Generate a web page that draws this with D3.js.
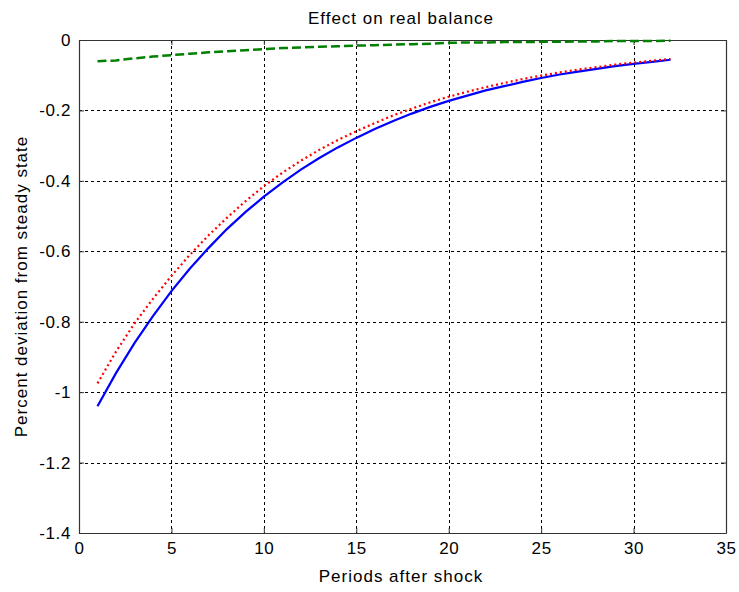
<!DOCTYPE html>
<html>
<head>
<meta charset="utf-8">
<script src="https://cdn.jsdelivr.net/npm/d3@7"></script>
<style>
	body { margin: 0; background: #fff; }
	text { font-family: "Liberation Sans", Arial, sans-serif; fill: #000; }
</style>
</head>
<body>
<div id="chart"></div>
<script>
// periods after shock
var periods = [1,2,3,4,5,6,7,8,9,10,11,12,13,14,15,16,17,18,19,20,21,22,23,24,25,26,27,28,29,30,31,32];

// blue solid line
var blueVals = [-1.040,-0.946,-0.861,-0.784,-0.713,-0.649,-0.591,-0.537,-0.489,-0.445,-0.405,-0.368,-0.335,-0.305,-0.278,-0.253,
	-0.230,-0.209,-0.190,-0.173,-0.158,-0.143,-0.131,-0.119,-0.108,-0.098,-0.090,-0.082,-0.074,-0.068,-0.062,-0.056];
// red dotted line
var redVals = [-0.975,-0.885,-0.805,-0.735,-0.670,-0.610,-0.555,-0.505,-0.458,-0.415,-0.377,-0.343,-0.312,-0.284,-0.259,-0.236,
	-0.214,-0.195,-0.177,-0.161,-0.147,-0.134,-0.122,-0.111,-0.101,-0.092,-0.084,-0.077,-0.070,-0.064,-0.059,-0.054];
// green dashed line
var greenVals = [-0.060,-0.058,-0.052,-0.047,-0.043,-0.039,-0.035,-0.032,-0.029,-0.026,-0.023,-0.021,-0.019,-0.018,-0.016,-0.015,
	-0.013,-0.012,-0.011,-0.008,-0.007,-0.007,-0.006,-0.006,-0.005,-0.005,-0.004,-0.004,-0.003,-0.003,-0.003,-0.002];

var xTicks = [0,5,10,15,20,25,30,35];
var yTicks = [0,-0.2,-0.4,-0.6,-0.8,-1,-1.2,-1.4];

var W = 739, H = 592;
var m = { left: 79, right: 13, top: 40, bottom: 59 };
var pw = W - m.left - m.right, ph = H - m.top - m.bottom;

var svg = d3.select('#chart').append('svg')
	.attr('width', W).attr('height', H);

var x = d3.scaleLinear().domain([0, 35]).range([m.left, m.left + pw]);
var y = d3.scaleLinear().domain([-1.4, 0]).range([m.top + ph, m.top]);

// grid
var grid = svg.append('g').attr('stroke', '#000').attr('stroke-width', 1).attr('stroke-dasharray', '3,3');
grid.selectAll('.gx').data(xTicks.slice(1, -1)).enter().append('line')
	.attr('x1', function (d) { return Math.round(x(d)) + 0.5; })
	.attr('x2', function (d) { return Math.round(x(d)) + 0.5; })
	.attr('y1', m.top).attr('y2', m.top + ph);
grid.selectAll('.gy').data(yTicks.slice(1, -1)).enter().append('line')
	.attr('y1', function (d) { return Math.round(y(d)) + 0.5; })
	.attr('y2', function (d) { return Math.round(y(d)) + 0.5; })
	.attr('x1', m.left).attr('x2', m.left + pw);

// axes
var fmt = function (d) { return d3.format('')(+d.toFixed(1)).replace('\u2212', '-'); };
var xAx = svg.append('g').attr('transform', 'translate(0,' + (m.top + ph) + ')')
	.call(d3.axisBottom(x).tickValues(xTicks).tickSizeInner(-5).tickSizeOuter(0).tickPadding(9).tickFormat(fmt));
var xTop = svg.append('g').attr('transform', 'translate(0,' + m.top + ')')
	.call(d3.axisTop(x).tickValues(xTicks).tickSizeInner(-5).tickSizeOuter(0).tickFormat(''));
var yAx = svg.append('g').attr('transform', 'translate(' + m.left + ',0)')
	.call(d3.axisLeft(y).tickValues(yTicks).tickSizeInner(-5).tickSizeOuter(0).tickPadding(8).tickFormat(fmt));
var yRight = svg.append('g').attr('transform', 'translate(' + (m.left + pw) + ',0)')
	.call(d3.axisRight(y).tickValues(yTicks).tickSizeInner(-5).tickSizeOuter(0).tickFormat(''));

[xAx, xTop, yAx, yRight].forEach(function (g) {
	g.select('.domain').attr('stroke', '#333').attr('stroke-width', 1.2);
	g.selectAll('.tick line').attr('stroke', '#333');
	g.selectAll('text').attr('font-size', 17).attr('letter-spacing', 0.6)
		.attr('font-family', '"Liberation Sans", Arial, sans-serif').attr('fill', '#222');
});

// lines
var line = function (vals) {
	return d3.line()
		.x(function (d, i) { return x(periods[i]); })
		.y(function (d) { return y(d); })(vals);
};
svg.append('path').attr('d', line(greenVals)).attr('fill', 'none')
	.attr('stroke', '#008000').attr('stroke-width', 2.5).attr('stroke-dasharray', '9,4');
svg.append('path').attr('d', line(blueVals)).attr('fill', 'none')
	.attr('stroke', '#0000ff').attr('stroke-width', 2.2);
svg.append('path').attr('d', line(redVals)).attr('fill', 'none')
	.attr('stroke', '#ff0000').attr('stroke-width', 2.2).attr('stroke-dasharray', '2,3');

// labels
svg.append('text').attr('x', 401).attr('y', 24).attr('text-anchor', 'middle')
	.attr('font-size', 17).attr('letter-spacing', 1).attr('fill', '#222').text('Effect on real balance');
svg.append('text').attr('x', 401).attr('y', 582).attr('text-anchor', 'middle')
	.attr('font-size', 17).attr('letter-spacing', 1).attr('fill', '#222').text('Periods after shock');
svg.append('text').attr('transform', 'translate(27,' + (m.top + ph / 2) + ') rotate(-90)')
	.attr('text-anchor', 'middle').attr('font-size', 17).attr('letter-spacing', 1).attr('fill', '#222')
	.text('Percent deviation from steady state');
</script>
</body>
</html>
